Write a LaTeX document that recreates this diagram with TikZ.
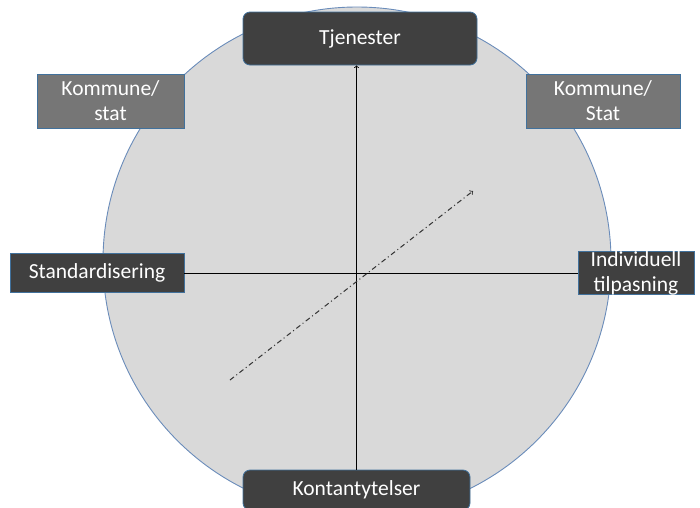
\documentclass[tikz,border=0pt]{standalone}
\usepackage{fontspec}
\setmainfont{Carlito}
\definecolor{boxDark}{HTML}{404040}
\definecolor{boxGray}{HTML}{767676}
\definecolor{boxEdge}{HTML}{41719C}
\definecolor{circleFill}{HTML}{D9D9D9}
\definecolor{circleEdge}{HTML}{6A8CBA}

\begin{document}
\begin{tikzpicture}[x=1pt, y=-1pt,
    darkbox/.style={draw=boxEdge, fill=boxDark, text=white, inner sep=0pt,
        line width=0.8pt, align=center, font=\fontsize{21.5}{25}\selectfont},
    graybox/.style={darkbox, fill=boxGray}]
    \useasboundingbox (0,0) rectangle (700,507);
    \draw[fill=circleFill, draw=circleEdge, line width=0.9pt] (357,261) circle[radius=254];
    % boxes
    \node[darkbox, rounded corners=7pt, minimum width=234pt, minimum height=53pt] (tjenester) at (360,38.5) {Tjenester};
    \node[darkbox, rounded corners=7pt, minimum width=227pt, minimum height=40pt] (kontant) at (356.5,490) {Kontantytelser};
    \node[graybox, minimum width=147pt, minimum height=54pt] (kommuneL) at (110.5,101) {Kommune/\\stat};
    \node[graybox, minimum width=154pt, minimum height=54pt] (kommuneR) at (603,101) {Kommune/\\Stat};
    \node[darkbox, minimum width=174pt, minimum height=39pt] (standard) at (97,273) {Standardisering};
    \node[darkbox, minimum width=116pt, minimum height=41pt] (individ) at (636,273) {Individuell\\tilpasning};
    % axes
    \draw[->, line width=0.8pt] (kontant.north) -- (kontant.north |- tjenester.south);
    \draw[line width=0.8pt] (standard.east) -- (individ.west);
    \coordinate (diagStart) at (230,380);
    \coordinate (diagEnd) at (473,191);
    \draw[->, line width=1pt, black!80, dash pattern=on 5pt off 3pt on 1pt off 3pt] (diagStart) -- (diagEnd);
\end{tikzpicture}
\end{document}
